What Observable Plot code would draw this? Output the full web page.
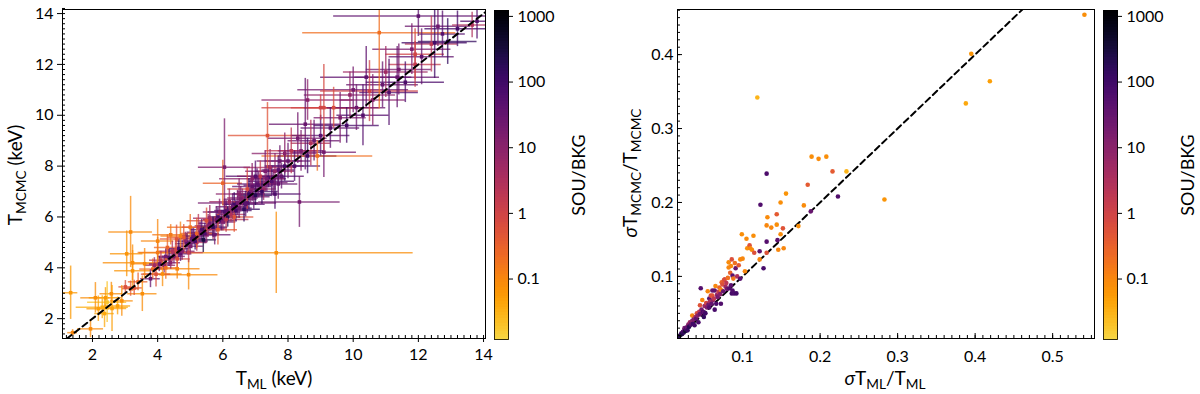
<!DOCTYPE html>
<html><head><meta charset="utf-8">
<script src="https://cdn.jsdelivr.net/npm/d3@7"></script>
<script src="https://cdn.jsdelivr.net/npm/@observablehq/plot@0.6"></script>
<style>
body{margin:0;background:#fff;font-family:Lato,sans-serif;}
#wrap{position:relative;width:1200px;height:394px;overflow:hidden;}
#wrap svg{position:absolute;top:0;overflow:visible;}
</style></head><body><div id="wrap"></div>
<script>
// ---------- Left panel: T_MCMC vs T_ML (keV) with 1-sigma errors ----------
const tML = [1.39,1.33,1.94,2.09,2.18,2.37,2.40,2.58,2.77,3.01,3.17,3.17,3.53,3.23,3.23,3.60,4.15,4.60,4.95,3.78,3.28,7.64,2.45,2.30,2.60,2.90,3.40,3.05,4.00,4.40,
4.10,3.90,4.25,4.40,4.55,4.70,4.30,4.85,5.00,4.05,4.20,4.35,4.50,4.65,4.75,4.90,4.45,4.60,4.80,4.25,4.95,4.00,4.70,3.85,3.95,
5.10,5.20,5.35,5.50,5.60,5.70,5.85,5.05,5.15,5.30,5.45,5.55,5.70,5.80,5.95,5.25,5.60,5.40,5.75,5.90,5.50,5.20,5.85,4.58,5.00,
6.00,6.10,6.25,6.35,6.50,6.60,6.75,6.85,6.05,6.15,6.30,6.40,6.55,6.70,6.80,6.95,6.20,6.50,6.65,6.90,6.10,6.45,6.75,6.35,6.05,6.00,
7.00,7.10,7.25,7.40,7.55,7.70,7.05,7.20,7.35,7.50,7.60,7.80,7.90,7.45,7.70,7.15,7.30,7.75,7.00,7.60,6.90,7.37,8.35,
8.00,8.20,8.40,8.60,8.80,8.70,9.00,8.10,7.90,8.30,8.53,8.90,9.10,
9.10,9.40,10.00,8.60,9.00,9.30,9.60,9.80,10.10,10.30,10.60,10.90,11.10,11.40,11.60,11.00,12.10,12.90,11.80,10.40,9.90,12.60,13.20,10.50,11.35,11.90,11.90,12.40,12.50,12.74,13.65,13.80,12.00,10.80];
const tMCMC = [1.45,3.02,1.60,2.82,2.39,2.20,2.82,2.98,2.50,3.25,3.18,5.41,2.98,3.88,4.20,4.16,3.76,3.96,3.73,3.57,3.21,4.59,2.65,2.45,2.40,2.70,3.45,4.55,5.05,5.30,
4.30,4.10,4.45,4.20,4.70,4.55,4.80,5.05,4.85,4.15,4.10,4.40,4.45,4.75,4.65,4.95,4.65,4.35,5.20,4.00,4.60,4.60,5.25,3.95,3.75,
5.25,5.00,5.50,5.30,5.75,5.55,6.00,5.15,5.05,5.40,5.35,5.65,5.60,5.90,5.85,5.60,5.95,5.10,5.30,6.20,5.85,5.35,5.50,5.13,5.60,
5.80,6.25,6.10,6.50,6.35,6.75,6.55,7.00,6.20,6.00,6.40,6.25,6.70,6.50,6.90,6.80,6.60,6.90,6.30,7.20,5.90,6.55,7.10,6.00,7.96,7.33,
6.85,7.25,7.10,7.55,7.35,7.85,7.30,7.00,7.50,7.40,7.80,7.60,8.00,7.95,7.30,7.60,7.80,8.20,7.60,6.90,7.50,9.20,6.59,
8.20,8.00,8.60,8.40,9.00,8.90,9.20,8.60,8.50,9.10,9.65,8.40,8.55,
10.30,10.30,11.00,10.60,10.30,9.50,9.90,9.60,10.30,10.00,10.60,11.20,10.90,11.80,11.30,11.70,12.30,12.90,12.60,11.50,10.80,13.50,13.40,10.95,11.50,12.00,12.40,12.80,12.85,13.20,13.55,13.70,13.90,13.25];
const errML = [0.15,0.22,0.40,0.45,0.35,0.30,0.50,0.35,0.40,0.20,0.25,0.67,0.45,0.55,0.90,0.40,0.60,0.70,0.90,0.30,0.25,4.20,0.60,0.80,0.45,0.35,0.30,0.50,0.50,0.55,
0.35,0.30,0.25,0.30,0.30,0.35,0.40,0.30,0.40,0.30,0.35,0.30,0.35,0.35,0.40,0.35,0.40,0.40,0.50,0.35,0.45,0.60,0.60,0.40,0.45,
0.35,0.30,0.35,0.40,0.35,0.40,0.30,0.40,0.40,0.40,0.45,0.40,0.45,0.40,0.50,0.50,0.50,0.40,0.50,0.50,0.60,0.50,0.60,0.50,0.70,
0.40,0.35,0.45,0.35,0.40,0.45,0.35,0.40,0.50,0.40,0.50,0.50,0.50,0.60,0.50,0.50,0.60,0.70,0.50,0.60,0.70,1.20,0.60,0.60,0.80,0.60,
0.50,0.45,0.40,0.50,0.45,0.50,0.60,0.50,0.60,0.70,0.60,0.70,0.60,0.80,0.60,0.70,0.60,0.70,0.90,0.80,1.00,1.20,1.25,
0.70,0.80,0.70,0.90,0.80,0.60,0.90,0.80,1.00,0.90,1.10,1.70,1.00,
1.00,0.90,1.70,1.40,1.80,0.90,0.80,1.00,0.90,0.80,1.00,1.10,0.90,1.00,1.20,1.30,1.00,0.90,1.20,1.40,1.40,1.00,1.00,1.50,1.30,0.80,0.90,0.80,1.00,0.70,0.60,0.50,2.60,2.35];
const errMCMC = [0.12,1.05,0.35,0.60,0.50,0.55,0.40,0.45,0.35,0.25,0.30,1.40,0.70,0.80,0.70,0.60,0.50,0.40,0.60,0.35,0.30,1.60,0.80,0.45,0.90,0.60,0.35,0.90,0.85,0.40,
0.35,0.30,0.30,0.25,0.35,0.30,0.50,0.35,0.30,0.30,0.30,0.35,0.30,0.35,0.35,0.40,0.40,0.35,0.50,0.45,0.40,0.60,0.55,0.40,0.50,
0.30,0.35,0.40,0.35,0.30,0.45,0.35,0.40,0.35,0.40,0.40,0.45,0.40,0.50,0.40,0.50,0.50,0.50,0.40,0.50,0.50,0.60,0.60,0.55,0.50,
0.35,0.40,0.30,0.45,0.40,0.35,0.40,0.45,0.50,0.40,0.50,0.40,0.50,0.50,0.60,0.50,0.50,0.60,0.50,0.60,0.50,0.50,0.80,0.60,1.90,0.90,
0.40,0.50,0.45,0.40,0.50,0.55,0.60,0.50,0.50,0.60,0.70,0.50,0.60,0.70,0.60,0.60,0.80,0.60,0.60,0.60,0.60,1.30,1.00,
0.70,0.60,0.80,0.70,0.80,0.90,0.80,0.90,0.80,1.00,1.80,0.60,1.00,
1.70,0.80,0.90,0.80,0.50,0.80,1.00,0.70,0.90,1.20,1.00,0.90,1.30,1.00,0.80,1.00,1.10,0.90,1.00,1.20,0.90,0.80,0.70,1.20,1.20,0.90,1.00,1.10,1.40,0.90,0.50,0.70,0.80,3.00];
const souBkgL = [0.10,0.06,0.09,0.08,0.05,0.04,0.06,0.08,0.05,0.6,0.4,0.09,0.08,0.07,0.08,0.10,0.08,0.10,0.09,30,0.5,0.08,0.02,0.035,0.05,0.08,0.3,0.07,0.10,0.15,
2,5,20,10,1,40,0.3,8,15,30,8,60,20,100,12,45,3,0.7,0.4,0.2,1.5,0.15,0.12,0.25,0.6,
30,3,60,10,20,5,80,40,90,20,60,10,150,30,70,2,5,300,25,12,0.6,0.3,0.4,0.5,0.2,
12,40,3,100,25,8,50,15,60,200,30,80,15,45,120,25,5,10,150,35,2,20,0.8,0.5,15,0.3,
200,35,6,70,20,45,40,120,20,60,8,35,90,4,30,1.5,15,25,50,70,10,0.5,20,
30,60,15,100,25,3,45,2,10,20,30,0.2,20,
0.8,0.7,20,10,1,40,15,80,25,50,10,30,60,20,70,5,35,150,15,40,8,25,90,1,30,1.5,1,2,100,50,3,60,40,0.2];

// ---------- Right panel: relative errors ----------
const relErrML = [0.018,0.020,0.021,0.022,0.023,0.024,0.025,0.025,0.026,0.027,0.028,0.029,0.030,0.030,0.031,0.032,0.033,0.034,0.035,0.035,0.036,0.037,0.038,0.039,0.040,0.041,0.042,0.043,0.044,0.045,0.045,0.046,0.047,0.048,0.049,0.050,0.050,0.051,0.052,0.053,0.054,0.055,0.056,0.057,0.057,0.058,0.059,0.060,0.061,0.061,0.062,0.063,0.064,0.064,0.065,0.066,0.067,0.068,0.069,0.070,0.071,0.072,0.072,0.073,0.074,0.075,0.076,0.077,0.078,0.079,0.080,0.081,0.082,0.082,0.083,0.084,0.085,0.085,0.086,0.086,0.087,0.087,0.088,0.089,0.090,0.091,0.092,0.093,0.095,0.097,0.097,0.099,0.100,0.103,0.105,0.106,0.109,0.110,0.112,0.114,0.115,0.119,0.122,0.122,0.123,0.127,0.131,0.131,0.131,0.132,0.131,0.137,0.144,0.144,0.146,0.149,0.149,0.145,0.152,0.153,0.156,0.172,0.179,0.184,0.188,0.189,0.198,0.208,0.216,0.223,0.234,0.283,0.388,0.395,0.419,0.541];
const relErrMCMC = [0.019,0.021,0.023,0.022,0.025,0.024,0.027,0.030,0.026,0.029,0.031,0.027,0.033,0.035,0.032,0.038,0.035,0.037,0.040,0.047,0.036,0.042,0.034,0.045,0.043,0.050,0.047,0.038,0.052,0.061,0.049,0.084,0.055,0.068,0.052,0.045,0.051,0.060,0.050,0.064,0.058,0.080,0.062,0.070,0.058,0.066,0.074,0.063,0.074,0.081,0.068,0.070,0.055,0.081,0.087,0.063,0.075,0.072,0.079,0.085,0.076,0.063,0.082,0.092,0.089,0.080,0.095,0.096,0.086,0.091,0.083,0.098,0.112,0.119,0.084,0.105,0.088,0.114,0.077,0.123,0.081,0.101,0.097,0.077,0.118,0.111,0.077,0.100,0.115,0.097,0.123,0.157,0.124,0.107,0.151,0.138,0.142,0.138,0.136,0.155,0.132,0.342,0.134,0.123,0.197,0.111,0.239,0.147,0.169,0.180,0.132,0.166,0.170,0.184,0.136,0.157,0.200,0.149,0.165,0.138,0.212,0.168,0.196,0.224,0.188,0.262,0.259,0.262,0.242,0.208,0.242,0.204,0.334,0.401,0.364,0.454];
const souBkgR = [200,500,100,300,60,150,40,20,400,80,30,120,50,10,200,5,60,25,8,0.1,100,15,90,3,40,0.6,12,70,2,0.5,30,50,20,0.1,80,150,40,6,100,1,15,0.1,25,50,60,4,0.8,35,0.5,30,10,2,80,40,0.1,70,8,20,1.5,0.3,12,60,0.1,0.3,0.6,30,0.5,0.7,5,2,25,0.2,0.1,0.09,50,0.3,40,0.1,80,0.6,60,40,0.15,70,0.2,30,90,3,0.4,50,0.1,0.08,0.1,0.1,0.09,0.08,0.5,0.1,0.09,0.08,0.6,0.03,40,0.1,60,80,70,50,0.1,0.09,0.5,0.1,0.08,0.4,0.1,0.09,0.08,40,0.5,0.1,0.07,0.08,0.09,0.4,30,0.08,0.09,0.08,0.4,60,0.03,0.07,0.04,0.07,0.05,0.08];

// ticks, domains, reference lines
const xTicksL = [2,4,6,8,10,12,14];
const yTicksL = [2,4,6,8,10,12,14];
const xTicksR = [0.1,0.2,0.3,0.4,0.5];
const yTicksR = [0.1,0.2,0.3,0.4];
const cbTicks = [0.1,1,10,100,1000];
const xDomL = [1.08,14.06], yDomL = [1.22,14.16];
const xDomR = [0.016,0.554], yDomR = [0.016,0.461];
const cbDomain = [0.012,1230];
const oneToOneL = [0,15];
const oneToOneR = [0,0.6];

// inferno, reversed and truncated (yellow-gold at the low end, black at the high end)
const colorScale = {type:"log", domain:cbDomain, interpolate: t => d3.interpolateInferno(0.9*(1-t))};
const fontStyle = {fontFamily:"Lato, sans-serif", fontSize:"16px", color:"#000", background:"transparent", overflow:"visible"};

const leftData = tML.map((x,i)=>({x, y:tMCMC[i], ex:errML[i], ey:errMCMC[i], sb:souBkgL[i]}));
const rightData = relErrML.map((x,i)=>({x, y:relErrMCMC[i], sb:souBkgR[i]}));

const wrap = document.getElementById("wrap");

function addText(svg, x, y, rotate, size, parts){
  const t = d3.select(svg).append("text")
    .attr("transform", `translate(${x},${y}) rotate(${rotate})`)
    .attr("text-anchor","middle").attr("font-family","Lato, sans-serif")
    .attr("font-size", size).attr("fill","black");
  let shift = 0;
  for (const [s, kind] of parts){
    const sp = t.append("tspan").text(s);
    const target = kind === "sub" ? size*0.2 : 0;
    if (target !== shift){ sp.attr("dy", target - shift); shift = target; }
    if (kind === "sub") sp.attr("font-size", size*0.72);
    if (kind === "it") sp.attr("font-style","italic");
  }
}

function minorRange(a, b, step){ return d3.range(Math.round(a/step), Math.round(b/step)+1).map(k=>+(k*step).toFixed(4)); }

// ----- Left main -----
{
  const W=490,H=394,mL=62,mR=5,mT=9,mB=56;
  const iw=W-mL-mR, ih=H-mT-mB;
  const minorX = minorRange(1.2,14,0.2), minorY = minorRange(1.4,14.1,0.2);
  const svg = Plot.plot({
    width:W, height:H, marginLeft:mL, marginRight:mR, marginTop:mT, marginBottom:mB,
    style:fontStyle,
    x:{domain:xDomL}, y:{domain:yDomL}, color:colorScale,
    marks:[
      Plot.ruleY(leftData,{y:"y", x1:d=>d.x-d.ex, x2:d=>d.x+d.ex, stroke:"sb", strokeOpacity:0.75, strokeWidth:1.5, clip:true}),
      Plot.ruleX(leftData,{x:"x", y1:d=>d.y-d.ey, y2:d=>d.y+d.ey, stroke:"sb", strokeOpacity:0.75, strokeWidth:1.5, clip:true}),
      Plot.dot(leftData,{x:"x", y:"y", fill:"sb", symbol:"square", r:2, clip:true}),
      Plot.line(oneToOneL,{x:d=>d, y:d=>d, stroke:"black", strokeWidth:2, strokeDasharray:"6,4", clip:true}),
      Plot.tickX(minorX,{x:d=>d, insetTop:ih-3, stroke:"black"}),
      Plot.tickY(minorY,{y:d=>d, insetRight:iw-3, stroke:"black"}),
      Plot.axisX({ticks:xTicksL, tickSize:4, tickPadding:6, label:null}),
      Plot.axisY({ticks:yTicksL, tickSize:5, tickPadding:4, label:null}),
      Plot.frame({stroke:"black"})
    ]
  });
  svg.style.left="0px";
  wrap.appendChild(svg);
  addText(svg, 274, 385, 0, 19, [["T"],["ML","sub"],[" (keV)"]]);
  addText(svg, 22, 175, -90, 19, [["T"],["MCMC","sub"],[" (keV)"]]);
}

// colorbar builder
function colorbar(left, width){
  const mL=4, barW=14, mT=10, mB=55;
  const steps = d3.range(0,120);
  const lo=Math.log10(cbDomain[0]), hi=Math.log10(cbDomain[1]);
  const strips = steps.map(i=>{const a=10**(lo+(hi-lo)*i/120), b=10**(lo+(hi-lo)*(i+1)/120); return {a,b,c:Math.sqrt(a*b)};});
  const svg = Plot.plot({
    width, height:394, marginLeft:mL, marginRight:width-mL-barW, marginTop:mT, marginBottom:mB,
    style:fontStyle,
    x:{domain:[0,1], axis:null}, y:{type:"log", domain:cbDomain}, color:colorScale,
    marks:[
      Plot.rect(strips,{x1:0, x2:1, y1:"a", y2:"b", fill:"c", stroke:"c", strokeWidth:1, shapeRendering:"crispEdges"}),
      Plot.axisY({anchor:"right", ticks:cbTicks, tickFormat:d=>d<1?"0.1":String(d), tickSize:4, tickPadding:5, label:null}),
      Plot.frame({stroke:"black", strokeWidth:0.8})
    ]
  });
  svg.style.left = left+"px";
  wrap.appendChild(svg);
  addText(svg, 95, 175, -90, 18, [["SOU/BKG"]]);
}
colorbar(490, 110);

// ----- Right main -----
{
  const W=500,H=394,mL=77,mR=6,mT=9,mB=56;
  const iw=W-mL-mR, ih=H-mT-mB;
  const minorX = minorRange(0.02,0.55,0.01), minorY = minorRange(0.02,0.46,0.01);
  const svg = Plot.plot({
    width:W, height:H, marginLeft:mL, marginRight:mR, marginTop:mT, marginBottom:mB,
    style:fontStyle,
    x:{domain:xDomR}, y:{domain:yDomR}, color:colorScale,
    marks:[
      Plot.line(oneToOneR,{x:d=>d, y:d=>d, stroke:"black", strokeWidth:2, strokeDasharray:"6,4", clip:true}),
      Plot.dot(rightData,{x:"x", y:"y", fill:"sb", r:2.3, clip:true}),
      Plot.tickX(minorX,{x:d=>d, insetTop:ih-3, stroke:"black"}),
      Plot.tickY(minorY,{y:d=>d, insetRight:iw-3, stroke:"black"}),
      Plot.tickX(xTicksR,{x:d=>d, insetTop:ih-5, stroke:"black"}),
      Plot.tickY(yTicksR,{y:d=>d, insetRight:iw-5, stroke:"black"}),
      Plot.axisX({ticks:xTicksR, tickSize:0, tickPadding:12, tickFormat:d3.format(".1f"), label:null}),
      Plot.axisY({ticks:yTicksR, tickSize:0, tickPadding:4, tickFormat:d3.format(".1f"), label:null}),
      Plot.frame({stroke:"black"})
    ]
  });
  svg.style.left="600px";
  wrap.appendChild(svg);
  addText(svg, 285, 385, 0, 19, [["σ","it"],["T"],["ML","sub"],["/T"],["ML","sub"]]);
  addText(svg, 37, 173, -90, 19, [["σ","it"],["T"],["MCMC","sub"],["/T"],["MCMC","sub"]]);
}
colorbar(1099, 101);
</script>
</body></html>
